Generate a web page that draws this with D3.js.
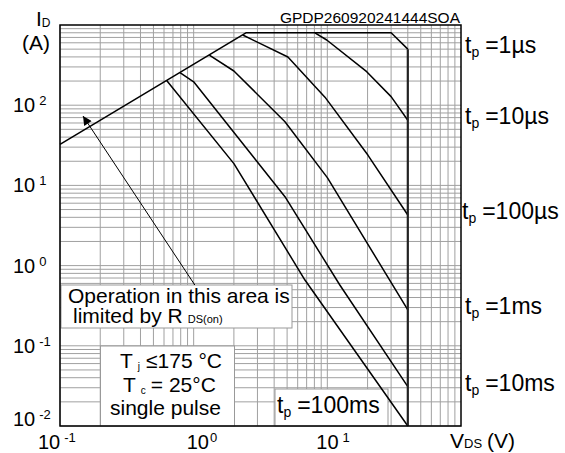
<!DOCTYPE html>
<html>
<head>
<meta charset="utf-8">
<script src="https://cdn.jsdelivr.net/npm/d3@7"></script>
<style>
body { margin: 0; background: #fff; }
text { font-family: "Liberation Sans", Arial, sans-serif; fill: #000; }
</style>
</head>
<body>
<script>
// Safe operating area chart

// curves: [V_DS (V), I_D (A)]
var rdsLimit = [[0.1, 32.5], [2.46, 800], [30, 800], [40, 500]];
var tp10us = [[8.08, 800], [9.9, 650], [19.7, 262], [30, 128], [40, 65]];
var tp100us = [[2.33, 750], [5.07, 399], [9.6, 126], [20.1, 23.9], [40, 4.27]];
var tp1ms = [[1.31, 420], [2.0, 267], [4.82, 62.3], [10.0, 12.5], [40, 0.28]];
var tp10ms = [[0.79, 254], [1.0, 196], [4.82, 7.23], [12.4, 0.573], [40, 0.031]];
var tp100ms = [[0.628, 203], [2.0, 18.7], [6.8, 0.661], [40, 0.01]];

// breakdown limit
var vdsMax = 40;
var vdsMaxTop = 500;

// pulse labels on the right, placed at the end current of each curve
var pulseNames = ['=1µs', '=10µs', '=100µs', '=1ms', '=10ms'];
var pulseEndI = [500, 65, 4.27, 0.28, 0.031];

// arrow for the R_DS(on) note
var arrowFrom = [1.02, 0.573];
var arrowTo = [0.1486, 73.3];

// ticks
var xTicks = [0.1, 1, 10];
var xTickExp = ['-1', '0', '1'];
var yTicks = [0.01, 0.1, 1, 10, 100];
var yTickExp = ['-2', '-1', '0', '1', '2'];

var svg = d3.select('body').append('svg')
  .attr('width', 565)
  .attr('height', 453);

svg.append('rect').attr('width', 565).attr('height', 453).attr('fill', '#fff');

var pLeft = 60, pTop = 25, pRight = 461, pBottom = 426;

var x = d3.scaleLog().domain([0.1, 100]).range([pLeft, pRight]);
var y = d3.scaleLog().domain([0.01, 1000]).range([pBottom, pTop]);

// grid
var xGrid = [], yGrid = [];
for (var e = -1; e < 2; e++) {
  for (var m = 1; m < 10; m++) xGrid.push(m * Math.pow(10, e));
}
for (var e2 = -2; e2 < 3; e2++) {
  for (var m2 = 1; m2 < 10; m2++) yGrid.push(m2 * Math.pow(10, e2));
}

var grid = svg.append('g').attr('stroke', '#a0a0a0').attr('stroke-width', 1);
grid.selectAll('.vg').data(xGrid).enter().append('line')
  .attr('class', 'vg')
  .attr('x1', function(d) { return x(d); })
  .attr('x2', function(d) { return x(d); })
  .attr('y1', pTop).attr('y2', pBottom);
grid.selectAll('.hg').data(yGrid).enter().append('line')
  .attr('class', 'hg')
  .attr('y1', function(d) { return y(d); })
  .attr('y2', function(d) { return y(d); })
  .attr('x1', pLeft).attr('x2', pRight);

// white note boxes
var boxes = [
  { x: 61, y: 285, w: 231, h: 43 },
  { x: 100.5, y: 346, w: 134, h: 80 },
  { x: 275, y: 389, w: 113, h: 37 }
];
svg.selectAll('.box').data(boxes).enter().append('rect')
  .attr('class', 'box')
  .attr('x', function(d) { return d.x; })
  .attr('y', function(d) { return d.y; })
  .attr('width', function(d) { return d.w; })
  .attr('height', function(d) { return d.h; })
  .attr('fill', '#fff')
  .attr('stroke', '#999')
  .attr('stroke-width', 1);

// curves
var line = d3.line()
  .x(function(d) { return x(d[0]); })
  .y(function(d) { return y(d[1]); });

var curves = [rdsLimit, tp10us, tp100us, tp1ms, tp10ms, tp100ms];
svg.selectAll('.curve').data(curves).enter().append('path')
  .attr('class', 'curve')
  .attr('d', line)
  .attr('fill', 'none')
  .attr('stroke', '#000')
  .attr('stroke-width', 1.5)
  .attr('stroke-linejoin', 'round');

svg.append('line')
  .attr('x1', x(vdsMax)).attr('x2', x(vdsMax))
  .attr('y1', y(vdsMaxTop)).attr('y2', y(0.01))
  .attr('stroke', '#222')
  .attr('stroke-width', 2.2);

// frame
svg.append('rect')
  .attr('x', pLeft).attr('y', pTop)
  .attr('width', pRight - pLeft).attr('height', pBottom - pTop)
  .attr('fill', 'none')
  .attr('stroke', '#000')
  .attr('stroke-width', 1.5);

// arrow
svg.append('defs').append('marker')
  .attr('id', 'ah')
  .attr('viewBox', '0 0 10 10')
  .attr('refX', 10).attr('refY', 5)
  .attr('markerWidth', 11).attr('markerHeight', 9)
  .attr('markerUnits', 'userSpaceOnUse')
  .attr('orient', 'auto')
  .append('path').attr('d', 'M0,0 L10,5 L0,10 z').attr('fill', '#000');

svg.append('line')
  .attr('x1', x(arrowFrom[0])).attr('y1', y(arrowFrom[1]))
  .attr('x2', x(arrowTo[0])).attr('y2', y(arrowTo[1]))
  .attr('stroke', '#000')
  .attr('stroke-width', 1)
  .attr('marker-end', 'url(#ah)');

// x tick labels
var xDx = [-22, -7, -11];
xTicks.forEach(function(v, i) {
  var t = svg.append('text')
    .attr('x', x(v) + xDx[i])
    .attr('y', 449)
    .style('font-size', '20px')
    .text('10');
  t.append('tspan')
    .attr('dx', i == 1 ? 1 : 4)
    .attr('dy', -7)
    .style('font-size', '13px')
    .text(xTickExp[i]);
});

// y tick labels
yTicks.forEach(function(v, i) {
  var t = svg.append('text')
    .attr('x', 13)
    .attr('y', Math.min(y(v) + 7, 426))
    .style('font-size', '20px')
    .text('10');
  t.append('tspan')
    .attr('dx', 4)
    .attr('dy', -7)
    .style('font-size', '13px')
    .text(yTickExp[i]);
});

// axis titles
var yl = svg.append('text').attr('x', 36).attr('y', 26).style('font-size', '21px').text('I');
yl.append('tspan').attr('dy', 1).style('font-size', '12px').text('D');
svg.append('text').attr('x', 22).attr('y', 50).style('font-size', '21px').text('(A)');

var xl = svg.append('text').attr('x', 450).attr('y', 447.5).style('font-size', '21px').text('V');
xl.append('tspan').style('font-size', '13px').text('DS');
xl.append('tspan').attr('dx', 5).text('(V)');

// title
svg.append('text')
  .attr('x', 460).attr('y', 23)
  .attr('text-anchor', 'end')
  .style('font-size', '15.5px')
  .text('GPDP260920241444SOA');

// pulse labels
function tpLabel(px, py, name) {
  var t = svg.append('text').attr('x', px).attr('y', py).style('font-size', '23px').text('t');
  t.append('tspan').attr('dy', 4).style('font-size', '14px').text('p');
  t.append('tspan').attr('dy', -4).attr('dx', 6).text(name);
}
pulseNames.forEach(function(n, i) {
  tpLabel(i == 2 ? 462 : 465, y(pulseEndI[i]) + 4, n);
});
tpLabel(277, 413, '=100ms');

// notes
svg.append('text').attr('x', 68).attr('y', 302.5).style('font-size', '21px')
  .text('Operation in this area is');
var l2 = svg.append('text').attr('x', 73).attr('y', 322.5).style('font-size', '21px')
  .text('limited by R');
l2.append('tspan').attr('dx', 5).style('font-size', '11px').text('DS(on)');

var n1 = svg.append('text').attr('x', 120).attr('y', 367.5).style('font-size', '21px').text('T');
n1.append('tspan').attr('dx', 5).attr('dy', 2).style('font-size', '10px').text('j');
n1.append('tspan').attr('dx', 6).attr('dy', -2).text('≤175 °C');
var n2 = svg.append('text').attr('x', 123).attr('y', 391.5).style('font-size', '21px').text('T');
n2.append('tspan').attr('dx', 5).attr('dy', 2).style('font-size', '10px').text('c');
n2.append('tspan').attr('dx', 5).attr('dy', -2).text('= 25°C');
svg.append('text').attr('x', 110).attr('y', 414.5).style('font-size', '21px').text('single pulse');
</script>
</body>
</html>
